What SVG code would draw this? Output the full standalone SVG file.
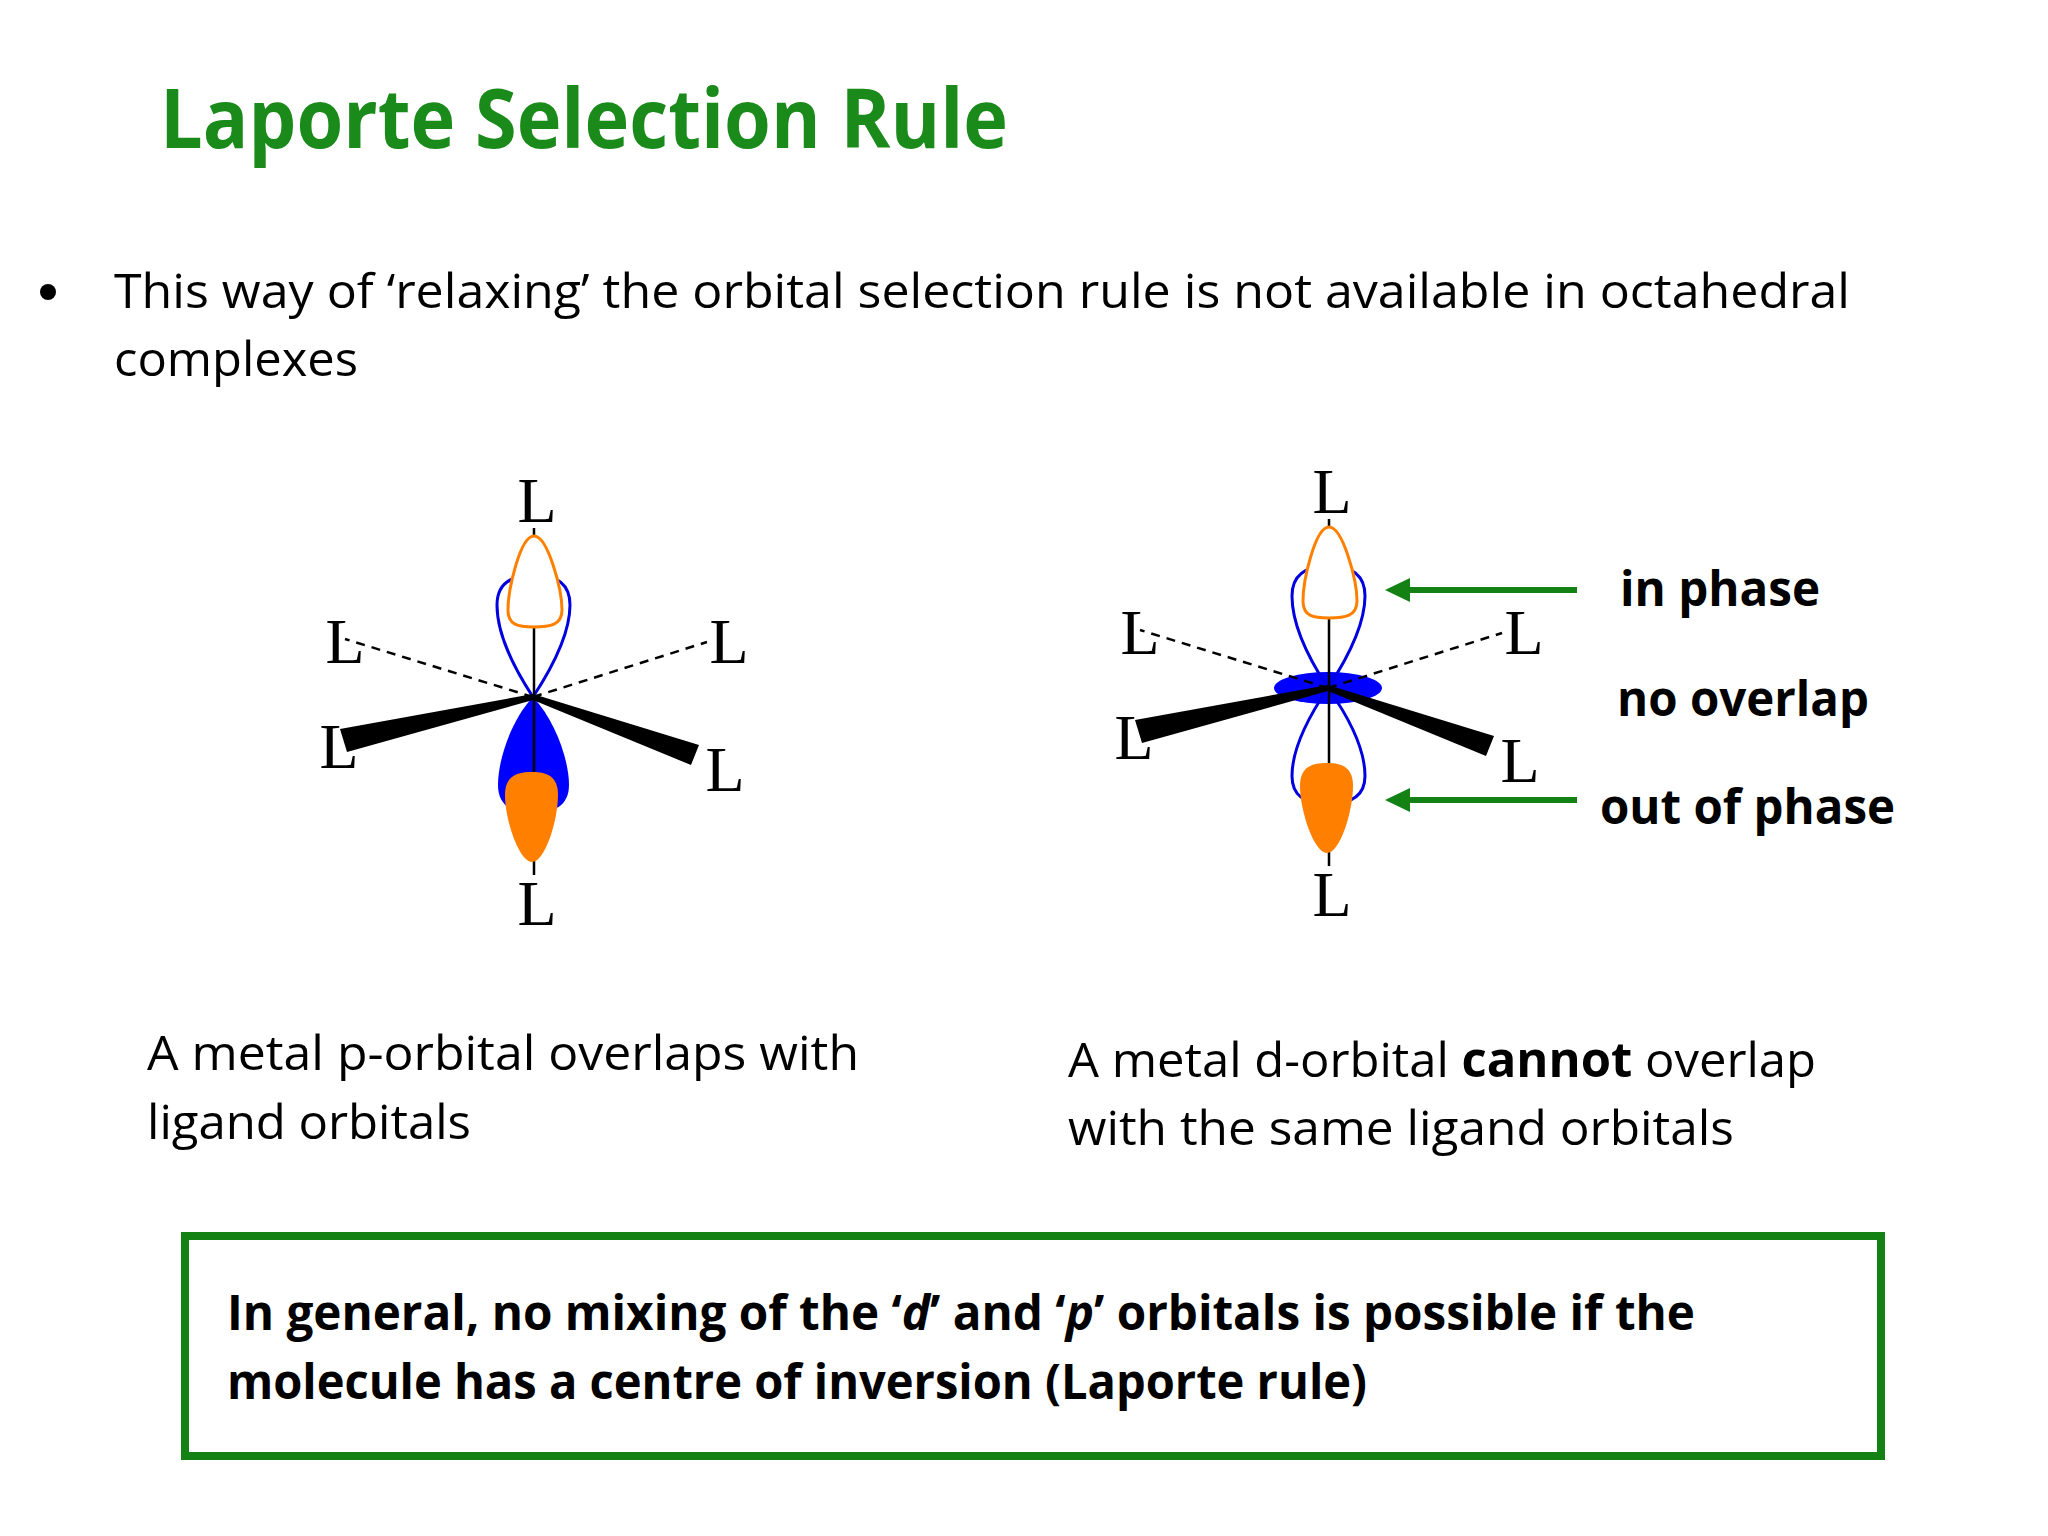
<svg xmlns="http://www.w3.org/2000/svg" width="2048" height="1536" viewBox="0 0 2048 1536">
<style>
.t{font-family:"Open Sans","Liberation Sans",sans-serif;font-size:48px;fill:#000}
.b{font-weight:bold}
.L{font-family:"Liberation Serif",serif;font-size:64px;fill:#000;text-anchor:middle}
.ax{stroke:#000;stroke-width:2.5;fill:none}
.da{stroke:#000;stroke-width:2.5;stroke-dasharray:9 7;fill:none}
.bo{stroke:#0000e0;stroke-width:3;fill:none}
.oo{stroke:#ff8000;stroke-width:3;fill:#fff}
.of{fill:#ff8000}
.bf{fill:#0000ff}
.ar{stroke:#138113;stroke-width:6;fill:none}
</style>
<rect width="2048" height="1536" fill="#fff"/>
<text x="160" y="148" font-family="Open Sans,Liberation Sans,sans-serif" font-size="82" font-weight="bold" fill="#1a8a1a" textLength="848" lengthAdjust="spacingAndGlyphs">Laporte Selection Rule</text>
<circle cx="48" cy="292" r="8" fill="#000"/>
<text x="114" y="308" class="t" textLength="1736" lengthAdjust="spacingAndGlyphs">This way of ‘relaxing’ the orbital selection rule is not available in octahedral</text>
<text x="114" y="376" class="t" textLength="244" lengthAdjust="spacingAndGlyphs">complexes</text>

<g id="molecule-p">
<path class="da" d="M533 697 L345 639 M533 697 L707 642"/>
<path class="bo" d="M533 697 C512 665 497 632 497 605 C497 585 510 575 534 575 C558 575 570 585 570 605 C570 632 554 665 533 697 Z"/>
<path class="bf" d="M533 697 C555 720 569 760 569 785 C569 805 555 813 533 813 C511 813 498 805 498 785 C498 760 511 720 533 697 Z"/>
<path class="ax" d="M534 528 L534 875"/>
<path class="oo" d="M534 536 C548 536 562 590 562 610 C562 625 550 627 534 627 C518 627 508 625 508 610 C508 590 520 536 534 536 Z"/>
<path class="of" d="M505 795 C505 775 518 772 532 772 C548 772 558 777 558 795 C558 820 545 862 532 862 C519 862 505 820 505 795 Z"/>
<polygon points="533,694 533,700 347,752 340,729" fill="#000"/>
<polygon points="533,694 533,700 691,765 699,745" fill="#000"/>
<text x="537" y="522" class="L">L</text>
<text x="345" y="663" class="L">L</text>
<text x="729" y="663" class="L">L</text>
<text x="339" y="768" class="L">L</text>
<text x="725" y="791" class="L">L</text>
<text x="537" y="925" class="L">L</text>
</g>

<g id="molecule-d" transform="translate(795,-9)">
<ellipse cx="533" cy="697" rx="54" ry="16" class="bf"/>
<path class="da" d="M533 697 L345 639 M533 697 L707 642"/>
<path class="bo" d="M533 697 C512 665 497 632 497 605 C497 585 510 575 534 575 C558 575 570 585 570 605 C570 632 554 665 533 697 Z"/>
<path class="bo" d="M533 697 C555 728 570 760 570 785 C570 805 556 813 533 813 C510 813 497 805 497 785 C497 760 512 728 533 697 Z"/>
<path class="ax" d="M534 528 L534 875"/>
<path class="oo" d="M534 536 C548 536 562 590 562 610 C562 625 550 627 534 627 C518 627 508 625 508 610 C508 590 520 536 534 536 Z"/>
<path class="of" d="M505 795 C505 775 518 772 532 772 C548 772 558 777 558 795 C558 820 545 862 532 862 C519 862 505 820 505 795 Z"/>
<polygon points="533,694 533,700 347,752 340,729" fill="#000"/>
<polygon points="533,694 533,700 691,765 699,745" fill="#000"/>
<text x="537" y="522" class="L">L</text>
<text x="345" y="663" class="L">L</text>
<text x="729" y="663" class="L">L</text>
<text x="339" y="768" class="L">L</text>
<text x="725" y="791" class="L">L</text>
<text x="537" y="925" class="L">L</text>
</g>

<g id="connectors">
<path class="ar" d="M1408 590 L1577 590"/>
<polygon points="1385,590 1410,578 1410,602" fill="#138113"/>
<path class="ar" d="M1408 800 L1577 800"/>
<polygon points="1385,800 1410,788 1410,812" fill="#138113"/>
</g>

<text x="1620" y="606" class="t b" textLength="200" lengthAdjust="spacingAndGlyphs">in phase</text>
<text x="1617" y="716" class="t b" textLength="252" lengthAdjust="spacingAndGlyphs">no overlap</text>
<text x="1600" y="824" class="t b" textLength="295" lengthAdjust="spacingAndGlyphs">out of phase</text>

<text x="147" y="1070" class="t" textLength="712" lengthAdjust="spacingAndGlyphs">A metal p-orbital overlaps with</text>
<text x="147" y="1139" class="t" textLength="324" lengthAdjust="spacingAndGlyphs">ligand orbitals</text>
<text x="1068" y="1077" class="t" textLength="748" lengthAdjust="spacingAndGlyphs">A metal d-orbital <tspan class="b">cannot</tspan> overlap</text>
<text x="1068" y="1145" class="t" textLength="666" lengthAdjust="spacingAndGlyphs">with the same ligand orbitals</text>

<g id="box">
<rect x="185" y="1236" width="1696" height="220" fill="none" stroke="#138113" stroke-width="8"/>
<text x="227" y="1330" class="t b" textLength="1468" lengthAdjust="spacingAndGlyphs">In general, no mixing of the ‘<tspan font-style="italic">d</tspan>’ and ‘<tspan font-style="italic">p</tspan>’ orbitals is possible if the</text>
<text x="227" y="1399" class="t b" textLength="1140" lengthAdjust="spacingAndGlyphs">molecule has a centre of inversion (Laporte rule)</text>
</g>
</svg>
